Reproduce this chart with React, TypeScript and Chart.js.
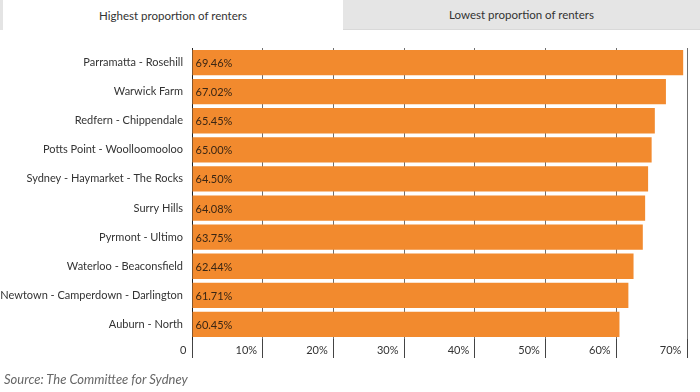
import React, { useEffect, useRef } from "react";
import { Chart, registerables } from "chart.js";

Chart.register(...registerables);

const categories = [
  "Parramatta - Rosehill",
  "Warwick Farm",
  "Redfern - Chippendale",
  "Potts Point - Woolloomooloo",
  "Sydney - Haymarket - The Rocks",
  "Surry Hills",
  "Pyrmont - Ultimo",
  "Waterloo - Beaconsfield",
  "Newtown - Camperdown - Darlington",
  "Auburn - North",
];
const renterShare = [69.46, 67.02, 65.45, 65.0, 64.5, 64.08, 63.75, 62.44, 61.71, 60.45];
const xTickLabels = ["0", "10%", "20%", "30%", "40%", "50%", "60%", "70%"];
const tabLabels = ["Highest proportion of renters", "Lowest proportion of renters"];
const sourceText = "Source: The Committee for Sydney";

const FONT = "Lato, 'Open Sans', sans-serif";

const valueLabelPlugin = {
  id: "valueLabels",
  afterDatasetsDraw(chart: any) {
    const ctx = chart.ctx;
    const meta = chart.getDatasetMeta(0);
    ctx.save();
    ctx.font = `11px ${FONT}`;
    ctx.fillStyle = "#3a2614";
    ctx.textAlign = "left";
    ctx.textBaseline = "middle";
    meta.data.forEach((bar: any, i: number) => {
      ctx.fillText(`${renterShare[i].toFixed(2)}%`, bar.base + 3, bar.y + 1);
    });
    ctx.restore();
  },
};

export default function App() {
  const ref = useRef<HTMLCanvasElement>(null);

  useEffect(() => {
    if (!ref.current) return;
    const chart = new Chart(ref.current, {
      type: "bar",
      data: {
        labels: categories,
        datasets: [
          {
            data: renterShare,
            backgroundColor: "#f28a2e",
            borderWidth: 0,
            barPercentage: 0.87,
            categoryPercentage: 1,
          },
        ],
      },
      options: {
        indexAxis: "y",
        animation: false,
        responsive: false,
        maintainAspectRatio: false,
        layout: { padding: { top: 48, right: 13, left: 0, bottom: 0 } },
        plugins: {
          legend: { display: false },
          tooltip: { enabled: false },
        },
        scales: {
          x: {
            min: 0,
            max: 70,
            afterFit: (s: any) => {
              s.height = 53;
            },
            ticks: {
              stepSize: 10,
              align: "end",
              padding: -14,
              color: "#333",
              font: { family: FONT, size: 11 },
              callback: (_v: any, i: number) => xTickLabels[i] + "  ",
            },
            grid: {
              color: "#6f6f6f",
              lineWidth: 1,
              drawTicks: true,
              tickLength: 19,
              tickColor: "#444",
            },
            border: { display: false },
          },
          y: {
            afterFit: (s: any) => {
              s.width = 192;
            },
            ticks: {
              color: "#333",
              padding: 9,
              font: { family: FONT, size: 11 },
            },
            grid: { display: false, drawTicks: false },
            border: { display: true, color: "#222", width: 1 },
          },
        },
      },
      plugins: [valueLabelPlugin],
    });
    return () => chart.destroy();
  }, []);

  return (
    <div style={{ position: "absolute", left: 0, top: 0, width: 700, height: 392, background: "#fff", overflow: "hidden", fontFamily: FONT }}>
      <canvas ref={ref} width={700} height={392} style={{ position: "absolute", left: 0, top: 0 }} />
      <div
        style={{
          position: "absolute",
          left: 0,
          top: 0,
          width: 343,
          height: 30,
          background: "#fff",
          borderLeft: "3px solid #e4e4e4",
          boxSizing: "border-box",
          display: "flex",
          alignItems: "center",
          justifyContent: "center",
          fontSize: 11.5,
          color: "#333",
        }}
      >
        {tabLabels[0]}
      </div>
      <div
        style={{
          position: "absolute",
          left: 343,
          top: 0,
          width: 357,
          height: 30,
          background: "#e5e5e5",
          borderBottom: "1px solid #d9d9d9",
          boxSizing: "border-box",
          display: "flex",
          alignItems: "center",
          justifyContent: "center",
          fontSize: 11.5,
          color: "#333",
        }}
      >
        {tabLabels[1]}
      </div>
      <div
        style={{
          position: "absolute",
          left: 4,
          top: 371,
          fontSize: 13,
          fontStyle: "italic",
          color: "#666",
        }}
      >
        {sourceText}
      </div>
    </div>
  );
}
